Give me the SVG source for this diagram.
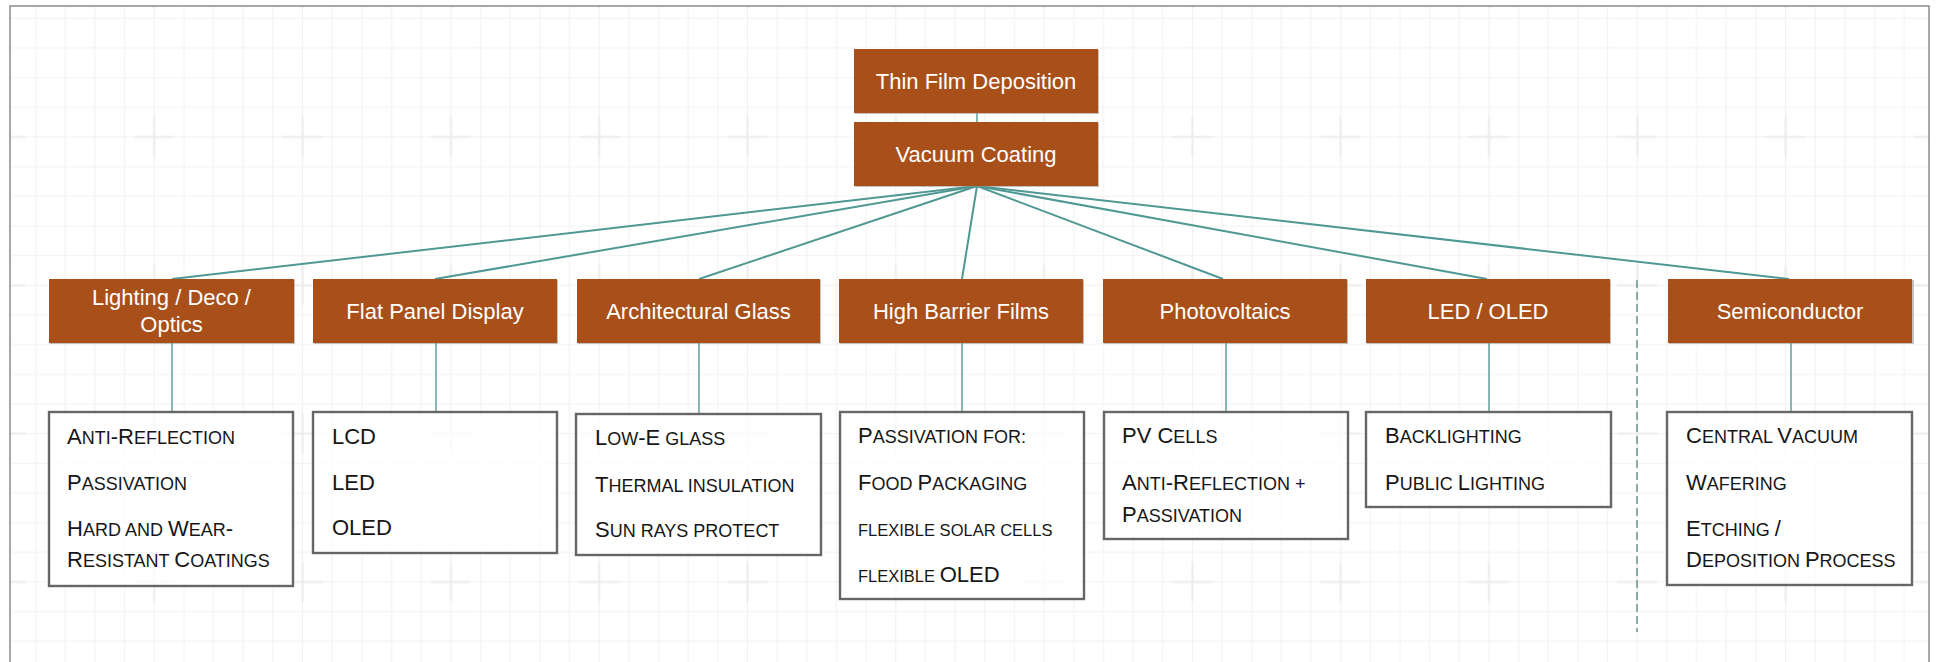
<svg xmlns="http://www.w3.org/2000/svg" width="1939" height="662" viewBox="0 0 1939 662">
<style>
.hdr{fill:#A9501A;}
.shd{fill:#8f8f8f;opacity:0.55;}
.ht{font-family:"Liberation Sans",Arial,sans-serif;font-size:22px;fill:#ffffff;text-anchor:middle;}
.box{fill:#ffffff;fill-opacity:0.75;stroke:#666666;stroke-width:2.4;}
.t{font-family:"Liberation Sans",Arial,sans-serif;font-size:22px;fill:#161616;}
.s{font-size:18px;text-transform:uppercase;}
.xs{font-size:16.5px;text-transform:uppercase;}
.fan{stroke:#4f9893;stroke-width:2;fill:none;}
.vc{stroke:#6aa6a2;stroke-width:1.6;fill:none;}
.dash{stroke:#6f9a98;stroke-width:1.6;stroke-dasharray:8 4;fill:none;}
</style>
<defs>
<pattern id="grid" patternUnits="userSpaceOnUse" x="80.15" y="62.85" width="148.3" height="148.3">
<g stroke="#f1f1f1" stroke-width="1">
<line x1="14.83" y1="0" x2="14.83" y2="148.3"/>
<line x1="44.49" y1="0" x2="44.49" y2="148.3"/>
<line x1="74.15" y1="0" x2="74.15" y2="148.3"/>
<line x1="103.81" y1="0" x2="103.81" y2="148.3"/>
<line x1="133.47" y1="0" x2="133.47" y2="148.3"/>
<line y1="14.83" x1="0" y2="14.83" x2="148.3"/>
<line y1="44.49" x1="0" y2="44.49" x2="148.3"/>
<line y1="74.15" x1="0" y2="74.15" x2="148.3"/>
<line y1="103.81" x1="0" y2="103.81" x2="148.3"/>
<line y1="133.47" x1="0" y2="133.47" x2="148.3"/>
</g>
<g stroke="#ebebeb" stroke-width="2">
<line x1="74.15" y1="54" x2="74.15" y2="94"/>
<line x1="54" y1="74.15" x2="94" y2="74.15"/>
</g>
</pattern>
</defs>
<rect x="0" y="0" width="1939" height="662" fill="#ffffff"/>
<rect x="10" y="6" width="1919" height="670" fill="url(#grid)" stroke="#8a8a8a" stroke-width="1.5"/>

<g id="connectors">
<line class="vc" x1="977" y1="113" x2="977" y2="122"/>
<line class="fan" x1="977" y1="186" x2="172" y2="279"/>
<line class="fan" x1="977" y1="186" x2="435" y2="279"/>
<line class="fan" x1="977" y1="186" x2="699" y2="279"/>
<line class="fan" x1="977" y1="186" x2="962" y2="279"/>
<line class="fan" x1="977" y1="186" x2="1223" y2="279"/>
<line class="fan" x1="977" y1="186" x2="1487" y2="279"/>
<line class="fan" x1="977" y1="186" x2="1789" y2="279"/>
<line class="vc" x1="172" y1="343" x2="172" y2="412"/>
<line class="vc" x1="436" y1="343" x2="436" y2="412"/>
<line class="vc" x1="699" y1="343" x2="699" y2="414"/>
<line class="vc" x1="962" y1="343" x2="962" y2="412"/>
<line class="vc" x1="1226" y1="343" x2="1226" y2="412"/>
<line class="vc" x1="1489" y1="343" x2="1489" y2="412"/>
<line class="vc" x1="1791" y1="343" x2="1791" y2="412"/>
<line class="dash" x1="1637" y1="280" x2="1637" y2="632"/>
</g>

<g id="thin-film">
<rect class="shd" x="855" y="50" width="244" height="64"/>
<rect class="hdr" x="854" y="49" width="244" height="64"/>
<text class="ht" x="976" y="89">Thin Film Deposition</text>
</g>
<g id="vacuum-coating">
<rect class="shd" x="855" y="123" width="244" height="64"/>
<rect class="hdr" x="854" y="122" width="244" height="64"/>
<text class="ht" x="976" y="162">Vacuum Coating</text>
</g>

<g id="lighting">
<rect class="shd" x="50" y="280" width="245" height="64"/>
<rect class="hdr" x="49" y="279" width="245" height="64"/>
<text class="ht" x="171.5" y="305">Lighting / Deco /</text>
<text class="ht" x="171.5" y="331.5">Optics</text>
</g>
<g id="flat-panel">
<rect class="shd" x="314" y="280" width="244" height="64"/>
<rect class="hdr" x="313" y="279" width="244" height="64"/>
<text class="ht" x="435" y="319">Flat Panel Display</text>
</g>
<g id="arch-glass">
<rect class="shd" x="578" y="280" width="243" height="64"/>
<rect class="hdr" x="577" y="279" width="243" height="64"/>
<text class="ht" x="698.5" y="319">Architectural Glass</text>
</g>
<g id="high-barrier">
<rect class="shd" x="840" y="280" width="244" height="64"/>
<rect class="hdr" x="839" y="279" width="244" height="64"/>
<text class="ht" x="961" y="319">High Barrier Films</text>
</g>
<g id="photovoltaics">
<rect class="shd" x="1104" y="280" width="244" height="64"/>
<rect class="hdr" x="1103" y="279" width="244" height="64"/>
<text class="ht" x="1225" y="319">Photovoltaics</text>
</g>
<g id="led-oled">
<rect class="shd" x="1367" y="280" width="244" height="64"/>
<rect class="hdr" x="1366" y="279" width="244" height="64"/>
<text class="ht" x="1488" y="319">LED / OLED</text>
</g>
<g id="semiconductor">
<rect class="shd" x="1669" y="280" width="245" height="64"/>
<rect class="hdr" x="1668" y="279" width="244" height="64"/>
<text class="ht" x="1790" y="319">Semiconductor</text>
</g>

<g id="lighting-items">
<rect class="box" x="49" y="412" width="244" height="174"/>
<text class="t" x="67" y="444">A<tspan class="s">nti</tspan>-R<tspan class="s">eflection</tspan></text>
<text class="t" x="67" y="490">P<tspan class="s">assivation</tspan></text>
<text class="t" x="67" y="536">H<tspan class="s">ard and </tspan>W<tspan class="s">ear</tspan>-</text>
<text class="t" x="67" y="567">R<tspan class="s">esistant </tspan>C<tspan class="s">oatings</tspan></text>
</g>
<g id="flat-panel-items">
<rect class="box" x="313" y="412" width="244" height="141"/>
<text class="t" x="332" y="444">LCD</text>
<text class="t" x="332" y="490">LED</text>
<text class="t" x="332" y="535">OLED</text>
</g>
<g id="arch-glass-items">
<rect class="box" x="576" y="414" width="245" height="141"/>
<text class="t" x="595" y="445">L<tspan class="s">ow</tspan>-E<tspan class="s"> glass</tspan></text>
<text class="t" x="595" y="491.5">T<tspan class="s">hermal insulation</tspan></text>
<text class="t" x="595" y="537">S<tspan class="s">un rays protect</tspan></text>
</g>
<g id="high-barrier-items">
<rect class="box" x="840" y="412" width="244" height="187"/>
<text class="t" x="858" y="443">P<tspan class="s">assivation for:</tspan></text>
<text class="t" x="858" y="490">F<tspan class="s">ood </tspan>P<tspan class="s">ackaging</tspan></text>
<text class="t" x="858" y="536"><tspan class="xs">flexible solar cells</tspan></text>
<text class="t" x="858" y="582"><tspan class="xs">flexible </tspan>OLED</text>
</g>
<g id="photovoltaics-items">
<rect class="box" x="1104" y="412" width="244" height="127"/>
<text class="t" x="1122" y="443">PV C<tspan class="s">ells</tspan></text>
<text class="t" x="1122" y="490">A<tspan class="s">nti</tspan>-R<tspan class="s">eflection +</tspan></text>
<text class="t" x="1122" y="521.5">P<tspan class="s">assivation</tspan></text>
</g>
<g id="led-oled-items">
<rect class="box" x="1366" y="412" width="245" height="95"/>
<text class="t" x="1385" y="443">B<tspan class="s">acklighting</tspan></text>
<text class="t" x="1385" y="490">P<tspan class="s">ublic </tspan>L<tspan class="s">ighting</tspan></text>
</g>
<g id="semiconductor-items">
<rect class="box" x="1667" y="412" width="245" height="173"/>
<text class="t" x="1686" y="443">C<tspan class="s">entral </tspan>V<tspan class="s">acuum</tspan></text>
<text class="t" x="1686" y="490">W<tspan class="s">afering</tspan></text>
<text class="t" x="1686" y="536">E<tspan class="s">tching </tspan>/</text>
<text class="t" x="1686" y="567">D<tspan class="s">eposition </tspan>P<tspan class="s">rocess</tspan></text>
</g>
</svg>
